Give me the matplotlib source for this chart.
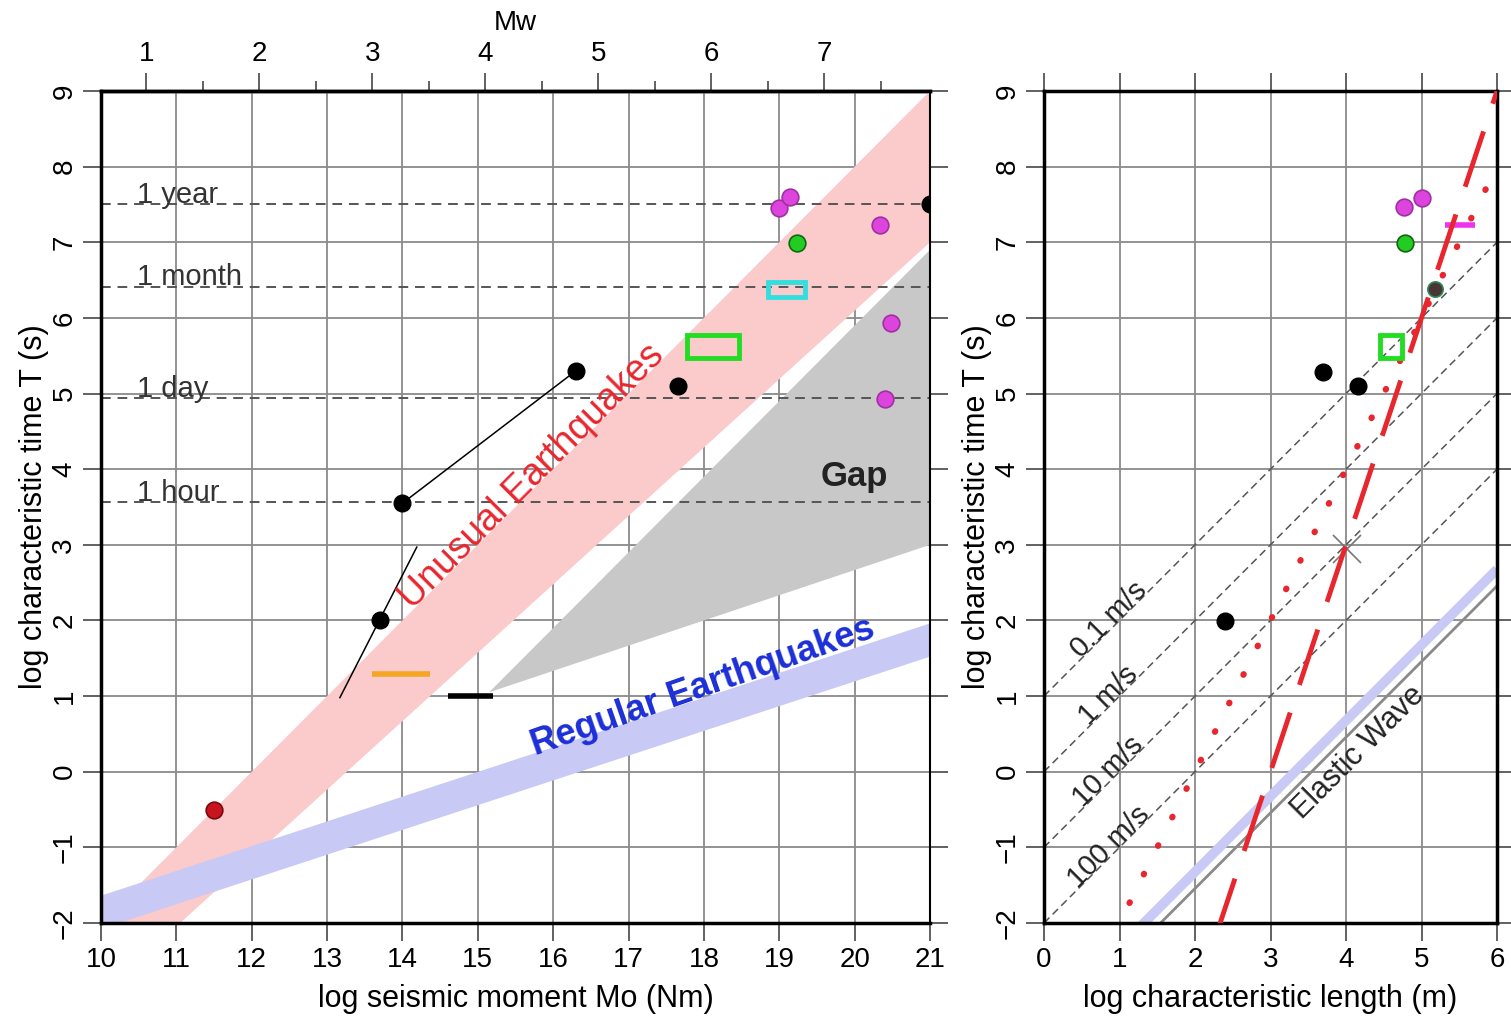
import numpy as np
import matplotlib
matplotlib.use("Agg")
import matplotlib.pyplot as plt
from matplotlib.patches import Polygon, Rectangle

plt.rcParams['font.family'] = ['Liberation Sans', 'DejaVu Sans']

# ---------------- data ----------------
# Left panel: log seismic moment vs log characteristic time
time_labels = ['1 year', '1 month', '1 day', '1 hour']
time_logs = [7.5, 6.41, 4.94, 3.56]

unusual_band = [(10.0, -2.0), (21.0, 9.0), (21.0, 7.0), (11.05, -2.0)]
regular_center_x = [10.0, 21.0]
regular_center_y = [-1.85, 1.75]
regular_halfwidth = 0.22
gap_poly = [(15.15, 1.05), (21.0, 6.9), (21.0, 3.0)]

black_x = [13.7, 14.0, 16.3, 17.65, 21.0]
black_y = [2.0, 3.55, 5.3, 5.1, 7.5]
trend1_x = [14.0, 16.3]
trend1_y = [3.55, 5.3]
trend2_x = [13.17, 14.19]
trend2_y = [0.98, 2.97]
magenta_x = [19.0, 19.14, 20.34, 20.48, 20.4]
magenta_y = [7.45, 7.6, 7.23, 5.93, 4.93]
green_dot = (19.23, 6.99)
red_dot = (11.5, -0.5)
orange_bar_x = [13.6, 14.36]
orange_bar_y = 1.29
black_bar_x = [14.6, 15.2]
black_bar_y = 1.0
green_rect = (17.77, 5.47, 18.47, 5.77)
cyan_rect = (18.85, 6.27, 19.34, 6.47)

mw_ticks = [1, 2, 3, 4, 5, 6, 7]

# Right panel: log characteristic length vs log characteristic time
velocities = [0.1, 1, 10, 100]
vel_labels = ['0.1 m/s', '1 m/s', '10 m/s', '100 m/s']
elastic_v = 3500.0
r_magenta_x = [4.77, 5.0]
r_magenta_y = [7.47, 7.58]
r_green_dot = (4.78, 6.99)
r_magenta_bar_x = [5.31, 5.71]
r_magenta_bar_y = 7.23
r_dark_dot = (5.18, 6.38)
r_green_sq = (4.45, 5.47, 4.74, 5.77)
r_black_x = [3.7, 4.16, 2.4]
r_black_y = [5.28, 5.1, 1.99]
r_cross = (4.01, 2.95)

# ---------------- style ----------------
PINK = '#fbcaca'
LBLUE = '#c9c9f6'
GAPC = '#c8c8c8'
GRIDC = '#8a8a8a'
TICK_FS = 20
LABEL_FS = 22

fig = plt.figure(figsize=(15.11, 10.16), dpi=100)
ax1 = fig.add_axes([101/1511, 93/1016, 829/1511, 832/1016])
ax2 = fig.add_axes([1044/1511, 93/1016, 453/1511, 832/1016])


def style_axes(ax, xlim, xticks):
    ax.set_xlim(*xlim)
    ax.set_ylim(-2, 9)
    ax.set_xticks(xticks)
    ax.set_yticks(range(-2, 10))
    ax.grid(True, color=GRIDC, lw=1.3, zorder=0)
    ax.set_axisbelow(True)
    ax.tick_params(direction='out', length=13, width=1.3, color='#555555',
                   labelsize=TICK_FS, pad=4)
    for lab in ax.get_yticklabels():
        lab.set_rotation(90)
        lab.set_va('center')
    for s in ax.spines.values():
        s.set_color('black')
        s.set_linewidth(2.5)
        s.set_zorder(5)


# ---------------- left panel ----------------
style_axes(ax1, (10, 21), range(10, 22))
ax1.tick_params(right=True, top=False)
ax1.spines['right'].set_linewidth(1.5)
ax1.set_xlabel('log seismic moment Mo (Nm)', fontsize=LABEL_FS, labelpad=8)
ax1.set_ylabel('log characteristic time T (s)', fontsize=LABEL_FS, labelpad=2)

ax1.add_patch(Polygon(unusual_band, closed=True, fc=PINK, ec='none', zorder=1))
rx = np.array(regular_center_x)
ry = np.array(regular_center_y)
ax1.fill_between(rx, ry - regular_halfwidth, ry + regular_halfwidth,
                 color=LBLUE, lw=0, zorder=1)
ax1.add_patch(Polygon(gap_poly, closed=True, fc=GAPC, ec='none', zorder=1))

for lab, t in zip(time_labels, time_logs):
    ax1.axhline(t, color='#555555', lw=1.4, ls=(0, (5, 3.5)), zorder=2)
    ax1.text(10.48, t + 0.02, lab, fontsize=21, color='#333333',
             ha='left', va='baseline', zorder=3)

ax1.plot(trend1_x, trend1_y, color='black', lw=1.1, zorder=3)
ax1.plot(trend2_x, trend2_y, color='black', lw=1.1, zorder=3)
ax1.plot(orange_bar_x, [orange_bar_y] * 2, color='#f5a623', lw=4,
         solid_capstyle='butt', zorder=3)
ax1.plot(black_bar_x, [black_bar_y] * 2, color='black', lw=4,
         solid_capstyle='butt', zorder=3)

for (x0, y0, x1, y1), c in [(green_rect, '#22dd22'), (cyan_rect, '#33dede')]:
    ax1.add_patch(Rectangle((x0, y0), x1 - x0, y1 - y0, fill=False, ec=c,
                            lw=3.5, zorder=4))

ax1.plot(black_x, black_y, 'o', ms=12, mfc='black', mec='black', zorder=6)
ax1.plot(magenta_x, magenta_y, 'o', ms=12, mfc='#dd44dd', mec='#a030a0',
         mew=1.2, zorder=6)
ax1.plot(*green_dot, 'o', ms=12, mfc='#22cc22', mec='#116611', mew=1.2,
         zorder=6)
ax1.plot(*red_dot, 'o', ms=12, mfc='#c8141e', mec='#7a0a10', mew=1.2,
         zorder=6)

ax1.text(15.72, 3.9, 'Unusual Earthquakes', fontsize=27, color='#e8262e',
         rotation=45, rotation_mode='anchor', ha='center', va='center',
         zorder=4)
ax1.text(17.98, 1.12, 'Regular Earthquakes', fontsize=26, color='#1c2fd8',
         fontweight='bold', rotation=19.2, rotation_mode='anchor',
         ha='center', va='center', zorder=4)
ax1.text(20.0, 3.9, 'Gap', fontsize=25, fontweight='bold', color='#222222',
         ha='center', va='center', zorder=4)

sec = ax1.secondary_xaxis('top', functions=(lambda m: (m - 9.1) / 1.5,
                                            lambda w: 1.5 * w + 9.1))
sec.set_xticks(mw_ticks)
sec.set_xticks([m + 0.5 for m in mw_ticks], minor=True)
sec.tick_params(direction='out', length=13, width=1.3, color='#555555',
                labelsize=TICK_FS, pad=4)
sec.tick_params(which='minor', direction='out', length=7, width=1.3,
                color='#555555')
sec.set_xlabel('Mw', fontsize=TICK_FS, labelpad=8)
sec.spines['top'].set_linewidth(2.5)

# ---------------- right panel ----------------
style_axes(ax2, (0, 6), range(0, 7))
ax2.tick_params(right=True, top=True)
ax2.set_xlabel('log characteristic length (m)', fontsize=LABEL_FS, labelpad=8)
ax2.set_ylabel('log characteristic time T (s)', fontsize=LABEL_FS, labelpad=2)

xx = np.linspace(0, 6, 200)
for v, lab in zip(velocities, vel_labels):
    ax2.plot(xx, xx - np.log10(v), color='#555555', lw=1.1, ls=(0, (5, 3)),
             zorder=2)
    xt = 0.93
    ax2.text(xt, xt - np.log10(v), lab, fontsize=21, color='#222222',
             rotation=45, rotation_mode='anchor', ha='center', va='baseline',
             zorder=3)

ax2.plot(xx, xx - np.log10(elastic_v) + 0.22, color=LBLUE, lw=7,
         solid_capstyle='butt', zorder=2)
ax2.plot(xx, xx - np.log10(elastic_v), color='#8a8a8a', lw=2, zorder=2)
ax2.text(4.16, 0.26, 'Elastic Wave', fontsize=22, color='#222222',
         rotation=45, rotation_mode='anchor', ha='center', va='center',
         zorder=3)

ax2.plot(xx, 2 * xx - 4, color='#e8262e', lw=4.5, ls=(0, (0.1, 5)),
         dash_capstyle='round', zorder=3)

ax2.plot(*r_cross, 'x', ms=20, mec='#777777', mew=1.2, zorder=3)
x0, y0, x1, y1 = r_green_sq
ax2.add_patch(Rectangle((x0, y0), x1 - x0, y1 - y0, fill=False,
                        ec='#22dd22', lw=3.5, zorder=4))
ax2.plot(r_black_x, r_black_y, 'o', ms=12, mfc='black', mec='black', zorder=6)
ax2.plot(r_magenta_x, r_magenta_y, 'o', ms=12, mfc='#dd44dd', mec='#a030a0',
         mew=1.2, zorder=6)
ax2.plot(*r_green_dot, 'o', ms=12, mfc='#22cc22', mec='#116611', mew=1.2,
         zorder=6)
ax2.plot(*r_dark_dot, 'o', ms=11, mfc='#4a3434', mec='#2a8a5a', mew=1.2,
         zorder=6)
ax2.plot(r_magenta_bar_x, [r_magenta_bar_y] * 2, color='#ee33ee', lw=4,
         solid_capstyle='butt', zorder=5)
ax2.plot(xx, 3 * xx - 9, color='#e8262e', lw=3.5, ls=(0, (12, 6)), zorder=7)

fig.savefig('out.png', dpi=100)
